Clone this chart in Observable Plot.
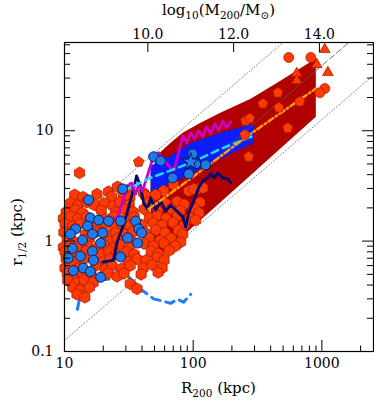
<!DOCTYPE html>
<html><head><meta charset="utf-8">
<script src="https://cdn.jsdelivr.net/npm/d3@7"></script>
<script src="https://cdn.jsdelivr.net/npm/@observablehq/plot@0.6"></script>
<style>body{margin:0;background:#fff;} #chart{width:374px;height:401px;}</style>
</head><body><div id="chart"></div>
<script>
// ---------- axis ticks ----------
const xMajorTicks = [10, 100, 1000];
const xMinorTicks = [20,30,40,50,60,70,80,90,200,300,400,500,600,700,800,900,2000];
const yMajorTicks = [0.1, 1, 10];
const yMinorTicks = [0.2,0.3,0.4,0.5,0.6,0.7,0.8,0.9,2,3,4,5,6,7,8,9,20,30,40,50,60];
const massTicks = [10.0, 12.0, 14.0];

// ---------- shaded bands (polygon outlines: R200, r1/2) ----------
const redBandR = [46.7,53.9,66.8,82.8,114,164,280,480,898,898,455,196,87.5,55.9,46.7];
const redBandr = [4.15,6.18,7.78,9.59,11.8,14.6,19.5,28.5,45.1,13.4,6.58,2.73,1.18,0.746,0.716];
const blueBandR = [46.7,66.8,95.7,164,296,296,164,95.7,66.8,46.7];
const blueBandr = [4.81,5.93,7.78,9.59,11.6,7.78,5.56,4.06,3.30,2.67];

// ---------- reference lines ----------
const lowDotR = [10, 2600], lowDotr = [0.126, 32.8];
const upDotR = [10, 520], upDotr = [1.26, 65.5];
const midSolidR = [170, 900], midSolidr = [6.6, 35];
const midDashR = [900, 1700], midDashr = [35, 66];

// ---------- curves ----------
const magentaR = [21.6,25.8,28.3,30.9,33.2,35.7,37.7,40.4,44.3,48.4,53.9,58.9,64.4,70.5,77.1,82.8,89.0,95.7,103,110,119,127,137,147,158,170,182,196];
const magentar = [1.58,1.62,2.31,3.16,3.37,2.67,3.23,2.85,3.98,5.56,6.31,5.56,4.81,4.33,6.31,9.01,7.78,9.59,8.46,10,8.82,10.9,9.39,11.6,10,12.3,10.6,12.1];
const navyR = [19.8,24.0,25.8,28.3,30.3,32.1,34.5,36.3,39.0,41.2,44.3,46.7,51.1,55.9,61.1,66.8,74.5,82.8,87.5,92.3,101,110,119,130,137,145,155,170,185,196];
const navyr = [0.645,0.672,1.0,1.34,1.72,2.21,2.97,3.90,3.16,2.21,1.95,2.46,1.91,2.31,1.87,2.12,1.87,1.65,1.34,1.80,2.31,3.03,3.51,3.74,4.06,3.74,4.15,3.74,3.66,3.37];
const blueDashR = [12.6,13.3,14.3,15.9,20.8,25.8,30.9,34.5,39.0,44.3,49.3,58.9,66.8,75.7,84.3,95.7];
const blueDashr = [0.241,0.33,0.43,0.46,0.45,0.46,0.48,0.43,0.366,0.33,0.30,0.285,0.273,0.297,0.28,0.33];
const cyanR = [28.8,46.7,95.7,164,296];
const cyanr = [2.85,3.74,5.12,6.86,9.01];
const orangeR = [45,80,280,898];
const oranger = [1.95,3.16,9.39,24.1];

// ---------- scatter points [R200, r1/2] ----------
const hexPoints = [
 [13.1,4.15],[41.2,2.73],[59,2.85],[70.5,3.23],[92.3,2.85],[109,2.97],[119,3.03],[101,2.97],
 [22.0,2.80],[25.8,3.10],[30.8,2.88],
 [12.0,2.62],[13.9,2.50],[17.9,2.66],[23.2,2.52],[28.6,2.61],[32.2,2.48],[42.7,2.57],[51.1,2.62],
 [11.2,2.22],[12.7,2.10],[14.9,2.25],[17.2,2.12],[20.3,2.20],[23.9,2.08],[27.0,2.24],[31.8,2.13],
 [45.5,2.26],[61.5,2.18],[74.8,2.28],[85.0,2.15],[113,2.24],
 [10.3,1.83],[12.1,1.92],[13.7,1.80],[19.3,1.90],[25.0,1.83],[29.6,1.93],[34.1,1.84],
 [41.6,1.95],[53.2,1.86],[67.4,1.96],[79.2,1.88],[104,1.94],[111,1.80],
 [9.8,1.60],[11.2,1.67],[12.7,1.58],[14.9,1.66],[20.7,1.58],[24.2,1.67],[30.0,1.59],[34.8,1.65],
 [45.7,1.62],[52.6,1.70],[61.6,1.61],[75.2,1.68],[95,1.62],[104.5,1.55],
 [10.1,1.43],[11.6,1.36],[13.2,1.44],[17.9,1.37],[21.0,1.44],[24.8,1.36],[28.0,1.43],[32.4,1.37],
 [40.0,1.40],[48.9,1.46],[57.3,1.39],[69.9,1.47],[85.2,1.40],
 [9.9,1.20],[14.5,1.15],[17.5,1.21],[22.3,1.14],[25.1,1.20],[29.6,1.15],[34.0,1.21],
 [42.2,1.20],[51.6,1.26],[60.5,1.19],[76.4,1.25],[82.8,1.15],
 [10.5,1.04],[11.9,0.99],[15.6,1.05],[21.8,0.99],[25.7,1.05],[33.5,0.99],
 [45.5,1.07],[55.3,1.01],[67.4,1.06],[80.0,0.98],
 [9.8,0.88],[11.2,0.93],[12.7,0.87],[14.9,0.92],[17.9,0.87],[20.3,0.93],[23.9,0.87],[27.0,0.92],[31.8,0.88],
 [41.5,0.95],[48.9,0.90],[59.4,0.95],[72.5,0.90],
 [10.1,0.80],[12.1,0.76],[14.7,0.81],[19.3,0.76],[22.2,0.81],[25.1,0.76],[30.6,0.80],[34.8,0.76],
 [47.2,0.81],[53.4,0.77],[65.0,0.82],
 [10.3,0.69],[12.1,0.65],[14.2,0.69],[20.0,0.65],[22.6,0.69],[31.2,0.65],[36.6,0.69],
 [43.0,0.67],[52.5,0.71],[59.4,0.67],
 [10.1,0.57],[11.2,0.60],[12.7,0.56],[17.5,0.60],[20.7,0.56],[23.4,0.60],[27.6,0.56],[32.4,0.60],[40.8,0.57],
 [48.0,0.61],[57.3,0.57],
 [10.5,0.51],[12.1,0.48],[13.7,0.52],[16.1,0.49],[21.8,0.51],[25.6,0.48],[29.0,0.51],[39.4,0.50],[53.4,0.52],
 [10.6,0.44],[12.5,0.42],[14.2,0.44],[16.7,0.42],
 [11.6,0.38],[13.2,0.36],[15.6,0.38],[32.4,0.41],[36.6,0.37],
 [12.5,0.33],[14.4,0.31]
];
const bluePoints = [
 [15.4,2.36],[15.9,1.62],[18.4,1.55],[22.0,1.52],[27.3,1.52],[15.1,1.37],[12.2,1.29],[11.1,1.16],
 [16.5,1.16],[19.8,1.19],[13.8,1.02],[19.1,0.96],[16.5,0.81],[11.5,0.86],[10.7,0.70],[13.3,0.73],
 [16.8,0.67],[14.0,0.57],[11.7,0.54],[15.9,0.53],[19.1,0.47],[30.9,1.07],[37.0,0.96],[35.7,1.52],
 [37.7,1.29],[39.7,1.19],[27.3,0.72],[28.3,2.97],[49.3,5.81],[55.9,5.34],[99.2,6.18],[92.3,4.06],
 [104.5,5.01],[125,4.91],[69.2,3.74]
];
const starPoints = [[95.7,5.22]];
const pentPoints = [[455,22.1],[348,17.6],[463,16.2],[674,18.4],[543,10.6],[256,12.3],[275,12.9],[252,9.2],[270,5.81],[37.7,5.22]];
const circPoints = [[553,46.1],[821,46.1],[1054,24.1],[964,22.1]];
const triPoints = [[1054,54.5],[914,39.8],[1114,33.7],[638,33.0],[638,28.5]];

// ---------- helpers ----------
const W = 374, H = 401, mL = 64, mR = 1, mT = 42, mB = 50;
const fw = W - mL - mR, fh = H - mT - mB;
const font = "DejaVu Serif, serif";
const massToR = m => Math.cbrt(Math.pow(10, m) / (200 * 136 * 4 / 3 * Math.PI));
const pts = (R, r) => R.map((x, i) => ({x, y: r[i]}));
const pairs = a => a.map(([x, y]) => ({x, y}));
const pentagon = {draw(ctx, size) {
  const rad = Math.sqrt(size / Math.PI) * 1.1;
  for (let i = 0; i < 5; i++) {
    const a = -Math.PI / 2 + i * 2 * Math.PI / 5;
    const px = rad * Math.cos(a), py = rad * Math.sin(a);
    if (i) ctx.lineTo(px, py); else ctx.moveTo(px, py);
  }
  ctx.closePath();
}};
const redFill = "#ff3a00", redStroke = "#9e1800";

const plot = Plot.plot({
  width: W, height: H, marginLeft: mL, marginRight: mR, marginTop: mT, marginBottom: mB,
  x: {type: "log", domain: [10, 2520], axis: null},
  y: {type: "log", domain: [0.1, 63], axis: null},
  style: {fontFamily: font, background: "white", color: "black"},
  marks: [
    Plot.line(pts(lowDotR, lowDotr), {x: "x", y: "y", stroke: "#777", strokeWidth: 0.9, strokeDasharray: "1,2.2", clip: true}),
    Plot.line(pts(upDotR, upDotr), {x: "x", y: "y", stroke: "#777", strokeWidth: 0.9, strokeDasharray: "1,2.2", clip: true}),
    Plot.line(pts(redBandR, redBandr), {x: "x", y: "y", fill: "#b00000", stroke: "none", curve: "linear"}),
    Plot.line(pts(blueBandR, blueBandr), {x: "x", y: "y", fill: "#0a1eff", stroke: "none", curve: "linear"}),
    Plot.line(pts(midSolidR, midSolidr), {x: "x", y: "y", stroke: "#555", strokeWidth: 0.8}),
    Plot.line(pts(blueDashR, blueDashr), {x: "x", y: "y", stroke: "#1f7bff", strokeWidth: 3, strokeDasharray: "9,6"}),
    Plot.dot(pairs(hexPoints), {x: "x", y: "y", symbol: "hexagon", r: 5.1, fill: redFill, stroke: redStroke, strokeWidth: 0.7}),
    Plot.line(pts(navyR, navyr), {x: "x", y: "y", stroke: "#07076e", strokeWidth: 2.8}),
    Plot.line(pts(magentaR, magentar), {x: "x", y: "y", stroke: "#cc00cc", strokeWidth: 2.8}),
    Plot.line(pts(cyanR, cyanr), {x: "x", y: "y", stroke: "#18e0f0", strokeWidth: 2.5, strokeDasharray: "7,5"}),
    Plot.line(pts(orangeR, oranger), {x: "x", y: "y", stroke: "#ffa000", strokeWidth: 2.5, strokeDasharray: "6,3,1.5,3"}),
    Plot.dot(pairs(bluePoints), {x: "x", y: "y", r: 5, fill: "#1e7be8", stroke: "#08104e", strokeWidth: 0.9}),
    Plot.dot(pairs(starPoints), {x: "x", y: "y", symbol: "star", r: 5.5, fill: "#1e7be8", stroke: "#08104e", strokeWidth: 0.9}),
    Plot.dot(pairs(pentPoints), {x: "x", y: "y", symbol: pentagon, r: 5, fill: redFill, stroke: redStroke, strokeWidth: 0.7}),
    Plot.dot(pairs(circPoints), {x: "x", y: "y", r: 5, fill: redFill, stroke: redStroke, strokeWidth: 0.7}),
    Plot.dot(pairs(triPoints), {x: "x", y: "y", symbol: "triangle", r: 4, fill: redFill, stroke: redStroke, strokeWidth: 0.7}),
    Plot.line(pts(midDashR, midDashr), {x: "x", y: "y", stroke: "#666", strokeWidth: 0.9, strokeDasharray: "6,3", clip: true}),
    // ticks (inward)
    Plot.ruleX(xMajorTicks, {x: d => d, insetTop: fh - 11, stroke: "black", strokeWidth: 1}),
    Plot.ruleX(xMinorTicks, {x: d => d, insetTop: fh - 5.5, stroke: "black", strokeWidth: 1}),
    Plot.ruleX(massTicks, {x: d => massToR(d), insetBottom: fh - 10, stroke: "black", strokeWidth: 1}),
    Plot.ruleY(yMajorTicks, {y: d => d, insetRight: fw - 11, stroke: "black", strokeWidth: 1}),
    Plot.ruleY(yMinorTicks, {y: d => d, insetRight: fw - 6, stroke: "black", strokeWidth: 1}),
    Plot.ruleY(yMajorTicks, {y: d => d, insetLeft: fw - 11, stroke: "black", strokeWidth: 1}),
    Plot.ruleY(yMinorTicks, {y: d => d, insetLeft: fw - 6, stroke: "black", strokeWidth: 1}),
    Plot.frame({stroke: "black", strokeWidth: 1.2}),
    // tick labels
    Plot.text(xMajorTicks, {x: d => d, text: d => String(d), frameAnchor: "bottom", dy: 16, fontSize: 14, fill: "black"}),
    Plot.text(yMajorTicks, {y: d => d, text: d => String(d), frameAnchor: "left", dx: -11, textAnchor: "end", fontSize: 14, fill: "black"}),
    Plot.text(massTicks, {x: d => massToR(d), text: d => d.toFixed(1), frameAnchor: "top", dy: -13, fontSize: 14, fill: "black"})
  ]
});
document.getElementById("chart").appendChild(plot);

// ---------- axis titles with subscripts ----------
const svg = d3.select(plot);
function label(x, y, parts, transform) {
  const t = svg.append("text").attr("x", x).attr("y", y).attr("text-anchor", "middle")
    .attr("font-family", font).attr("font-size", 15).attr("fill", "black");
  if (transform) t.attr("transform", transform);
  let shifted = 0;
  for (const [s, sub] of parts) {
    const ts = t.append("tspan").text(s);
    const want = sub ? 4 : 0;
    if (want !== shifted) { ts.attr("dy", want - shifted); shifted = want; }
    if (sub) ts.attr("font-size", 10.5);
  }
}
label(218.5, 393, [["R", 0], ["200", 1], [" (kpc)", 0]]);
label(0, 0, [["r", 0], ["1/2", 1], [" (kpc)", 0]], "translate(22,232) rotate(-90)");
label(218.5, 15, [["log", 0], ["10", 1], ["(M", 0], ["200", 1], ["/M", 0], ["\u2299", 1], [")", 0]]);
</script></body></html>
